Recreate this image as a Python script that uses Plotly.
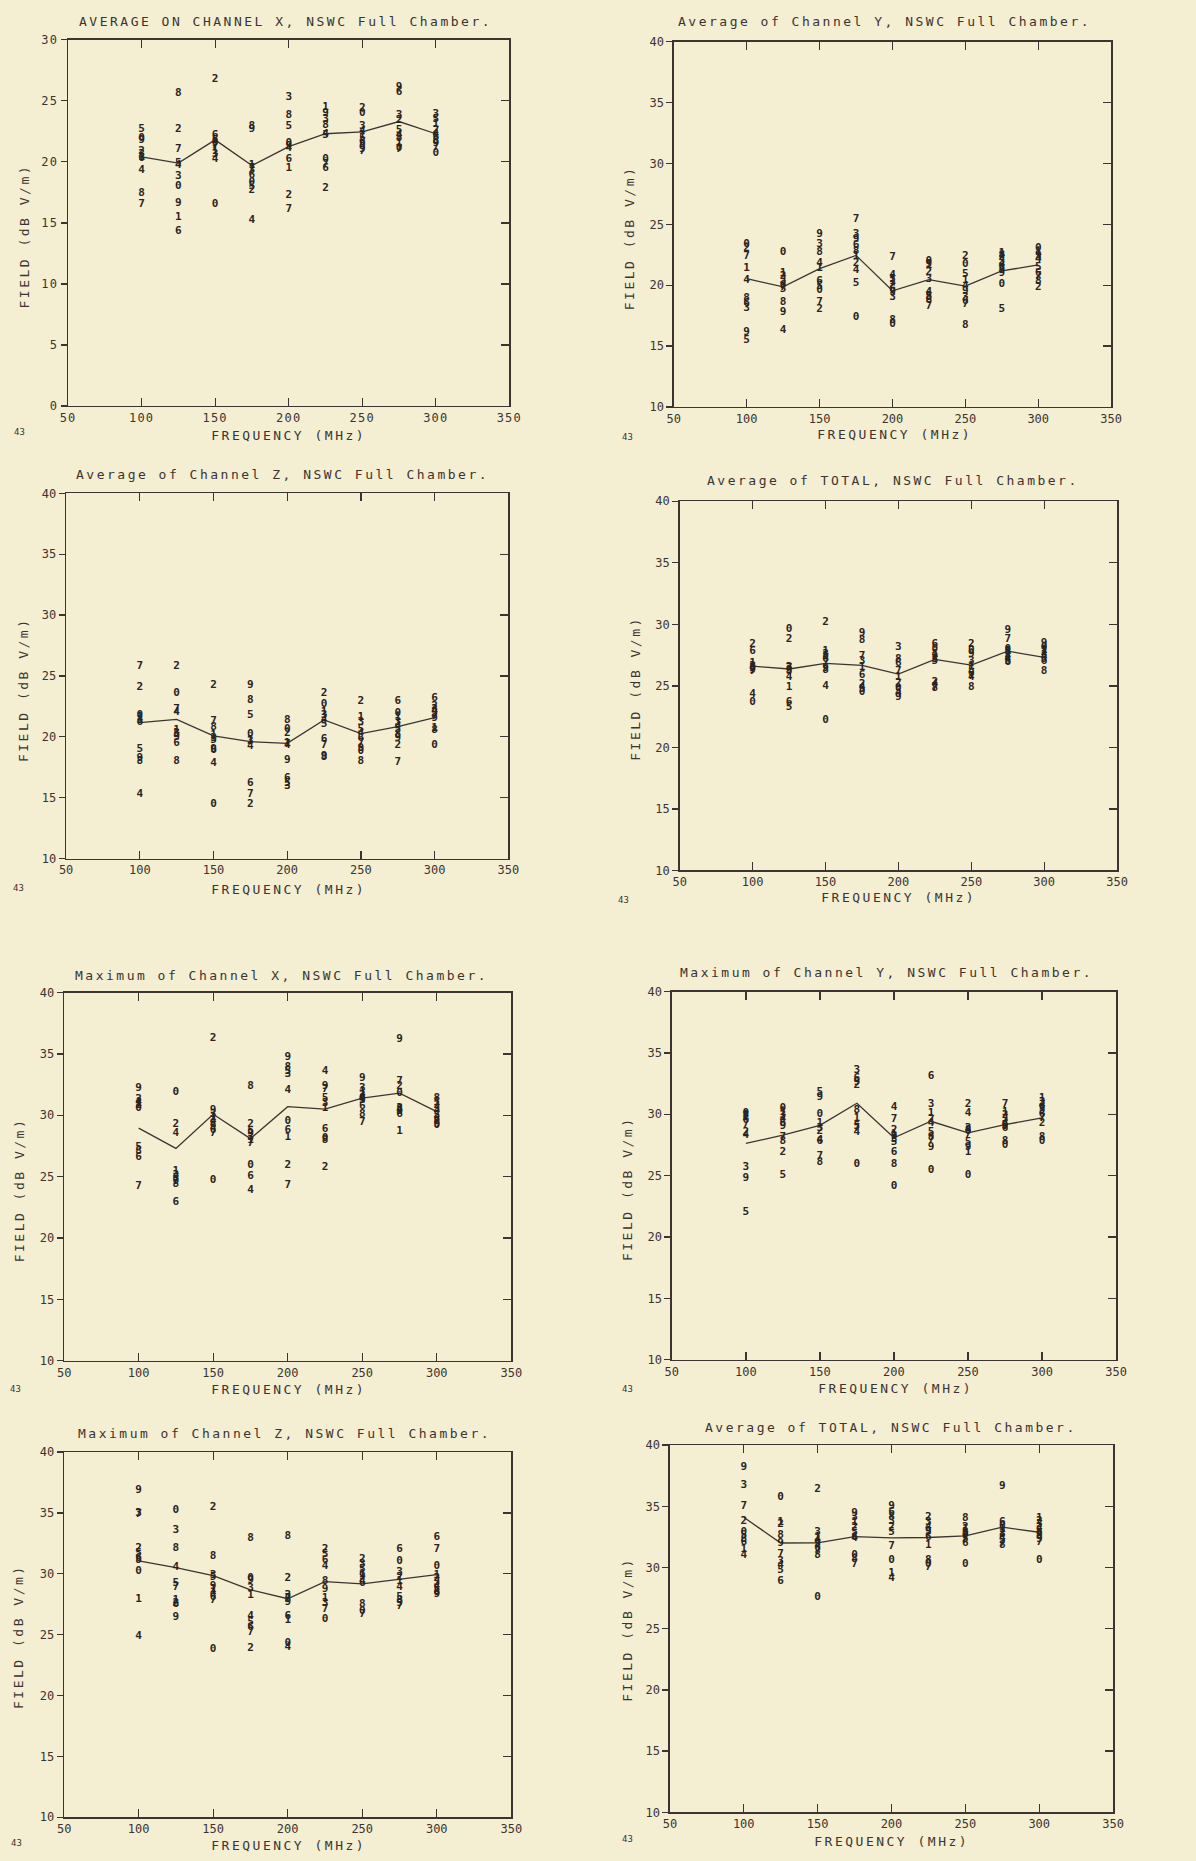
import plotly.graph_objects as go

W, H = 1196, 1861

FREQS = [100, 125, 150, 175, 200, 225, 250, 275, 300]
PROBES = ["0", "1", "2", "3", "4", "5", "6", "7", "8", "9"]
X_TICKS = [50, 100, 150, 200, 250, 300, 350]

# Each row: one frequency; columns: probe 0..9 (dB V/m)
AVG_X = [
    [21.9, 20.4, 20.9, 20.6, 19.3, 22.7, 20.3, 16.5, 17.4, 21.8],
    [18.0, 15.5, 22.7, 18.8, 19.7, 19.9, 14.3, 21.0, 25.6, 16.6],
    [16.5, 20.9, 26.8, 20.6, 20.2, 21.8, 22.2, 21.3, 21.6, 21.5],
    [18.3, 19.7, 17.7, 19.3, 15.2, 18.0, 18.9, 19.5, 22.9, 22.7],
    [21.5, 19.5, 17.3, 25.3, 21.1, 22.9, 20.2, 16.1, 23.8, 21.3],
    [20.2, 24.5, 17.8, 23.5, 22.3, 22.2, 19.5, 19.8, 23.0, 24.0],
    [24.0, 22.2, 24.4, 22.9, 22.5, 21.9, 21.6, 20.9, 21.4, 21.0],
    [21.1, 21.5, 23.4, 23.8, 22.2, 22.6, 25.7, 21.0, 21.9, 26.1],
    [20.7, 23.1, 22.6, 23.9, 22.3, 23.5, 22.0, 21.2, 21.7, 21.5],
]
AVG_X_MEAN = [20.4, 19.9, 21.8, 19.7, 21.25, 22.3, 22.45, 23.3, 22.3]

AVG_Y = [
    [23.4, 21.4, 23.0, 18.1, 20.4, 15.5, 18.5, 22.4, 18.9, 16.1],
    [22.7, 21.0, 20.7, 20.4, 16.3, 19.7, 20.0, 19.8, 18.6, 17.8],
    [19.6, 21.4, 18.0, 23.4, 21.8, 19.9, 20.3, 18.6, 22.7, 24.2],
    [17.4, 22.4, 21.8, 24.2, 21.2, 20.2, 23.3, 25.4, 22.8, 23.8],
    [16.8, 20.3, 20.0, 19.0, 20.8, 20.5, 19.7, 22.3, 17.1, 19.4],
    [22.0, 21.6, 21.1, 20.5, 19.4, 19.1, 18.8, 18.3, 19.0, 21.7],
    [21.7, 20.4, 22.4, 19.0, 19.9, 20.9, 18.7, 18.4, 16.7, 19.5],
    [20.1, 22.6, 22.3, 22.0, 21.7, 18.0, 21.4, 21.2, 22.5, 21.0],
    [23.0, 22.7, 19.8, 22.3, 22.1, 21.5, 21.0, 20.7, 20.3, 22.5],
]
AVG_Y_MEAN = [20.54, 19.86, 21.36, 22.45, 19.54, 20.46, 19.92, 21.17, 21.68]

AVG_Z = [
    [21.8, 21.6, 24.1, 21.4, 15.3, 19.0, 21.2, 25.8, 18.0, 18.2],
    [23.6, 20.5, 25.8, 20.3, 22.0, 20.2, 19.5, 22.3, 18.0, 20.0],
    [14.5, 20.1, 24.2, 19.9, 17.8, 19.7, 18.9, 21.3, 20.8, 19.0],
    [20.2, 19.7, 14.5, 19.6, 19.2, 21.8, 16.2, 15.3, 23.0, 24.2],
    [20.6, 19.5, 20.3, 15.9, 19.3, 16.2, 16.6, 19.4, 21.4, 18.1],
    [22.7, 22.0, 23.6, 21.8, 21.4, 21.0, 19.8, 19.3, 18.3, 18.4],
    [18.8, 21.6, 22.9, 21.2, 20.3, 20.6, 19.9, 19.5, 18.0, 19.1],
    [21.9, 21.6, 19.3, 21.2, 20.9, 20.6, 22.9, 17.9, 20.2, 19.9],
    [19.3, 20.7, 22.5, 22.3, 22.1, 21.9, 23.2, 21.7, 20.5, 21.5],
]
AVG_Z_MEAN = [21.16, 21.43, 20.08, 19.6, 19.46, 21.38, 20.27, 20.84, 21.57]

AVG_TOTAL_A = [
    [23.7, 26.8, 28.4, 26.6, 24.3, 26.4, 27.8, 26.2, 26.5, 26.3],
    [29.6, 24.9, 28.8, 26.5, 25.7, 23.3, 23.7, 26.4, 26.2, 26.3],
    [22.2, 27.8, 30.2, 27.6, 25.0, 27.4, 27.2, 26.8, 26.3, 26.4],
    [24.5, 26.5, 25.1, 27.0, 24.9, 24.7, 25.9, 27.4, 28.7, 29.3],
    [24.8, 25.7, 25.2, 28.1, 24.4, 24.6, 26.8, 26.2, 27.2, 24.1],
    [28.0, 27.6, 25.3, 27.2, 25.1, 27.0, 28.4, 24.9, 24.8, 27.4],
    [27.9, 26.6, 28.4, 27.0, 25.7, 26.3, 26.0, 25.8, 24.9, 27.6],
    [28.0, 27.8, 27.6, 27.4, 27.2, 27.0, 26.9, 28.8, 27.7, 29.5],
    [28.1, 27.9, 27.7, 27.5, 27.3, 27.2, 27.0, 27.8, 26.2, 28.5],
]
AVG_TOTAL_A_MEAN = [26.6, 26.37, 26.83, 26.66, 25.96, 27.15, 26.69, 27.82, 27.31]

MAX_X = [
    [30.6, 31.0, 30.8, 31.3, 31.1, 27.4, 26.6, 24.2, 27.1, 32.2],
    [31.9, 25.4, 29.3, 25.1, 28.5, 24.9, 22.9, 24.7, 24.4, 24.6],
    [24.7, 29.8, 36.3, 30.1, 29.5, 29.1, 28.8, 28.5, 29.3, 30.4],
    [25.9, 28.0, 29.3, 28.2, 23.9, 28.7, 25.0, 27.7, 32.4, 28.5],
    [29.5, 28.2, 25.9, 33.3, 32.0, 33.6, 28.8, 24.3, 33.9, 34.7],
    [28.1, 30.6, 25.8, 31.0, 33.6, 31.4, 28.9, 32.1, 28.0, 32.4],
    [31.4, 31.9, 31.6, 32.2, 31.3, 31.2, 30.7, 29.4, 30.1, 33.0],
    [31.8, 28.7, 32.4, 30.6, 30.4, 30.3, 30.1, 32.8, 30.5, 36.2],
    [29.2, 31.1, 30.8, 30.5, 30.3, 30.0, 29.7, 29.5, 31.4, 29.3],
]
MAX_X_MEAN = [28.95, 27.3, 30.08, 28.1, 30.7, 30.5, 31.4, 31.8, 30.3]

MAX_Y = [
    [30.1, 29.8, 28.5, 25.7, 28.3, 22.0, 29.5, 29.2, 29.9, 24.8],
    [30.5, 30.2, 26.9, 29.9, 29.6, 25.0, 29.3, 28.1, 27.8, 29.0],
    [30.0, 29.3, 28.6, 28.9, 27.9, 31.8, 27.8, 26.6, 26.1, 31.4],
    [25.9, 29.7, 32.4, 33.6, 28.5, 29.0, 32.9, 28.9, 30.3, 32.6],
    [24.1, 28.4, 28.7, 28.0, 30.6, 27.7, 26.9, 29.6, 25.9, 28.2],
    [25.4, 30.1, 29.6, 30.8, 29.3, 28.5, 33.1, 27.9, 28.1, 27.3],
    [25.0, 26.9, 30.8, 28.9, 30.1, 27.7, 28.6, 28.4, 28.7, 27.3],
    [27.5, 30.2, 29.9, 29.6, 29.3, 29.1, 28.9, 30.8, 27.8, 29.0],
    [27.8, 31.3, 29.3, 31.0, 30.7, 30.3, 30.0, 29.7, 28.1, 30.5],
]
MAX_Y_MEAN = [27.62, 28.3, 29.1, 30.9, 28.08, 29.43, 28.48, 29.16, 29.7]

MAX_Z = [
    [30.2, 27.9, 32.1, 35.0, 24.9, 31.7, 31.3, 34.9, 31.1, 36.9],
    [35.2, 27.8, 27.6, 33.6, 30.5, 29.2, 27.5, 28.9, 32.1, 26.4],
    [23.8, 28.7, 35.5, 29.9, 28.4, 29.7, 28.1, 27.8, 31.4, 29.0],
    [29.6, 28.2, 23.9, 28.8, 26.5, 26.0, 25.6, 25.2, 32.9, 29.5],
    [24.3, 26.2, 29.6, 28.2, 24.0, 27.9, 26.5, 28.0, 33.1, 27.7],
    [26.3, 28.0, 32.0, 27.6, 30.6, 31.6, 31.1, 27.1, 29.4, 28.7],
    [26.9, 30.0, 31.2, 30.8, 29.4, 30.4, 29.2, 26.7, 27.5, 29.8],
    [31.0, 29.4, 29.7, 30.1, 28.9, 28.1, 32.0, 27.3, 27.8, 27.6],
    [30.6, 29.9, 29.6, 29.3, 29.0, 28.7, 33.0, 32.0, 28.5, 28.3],
]
MAX_Z_MEAN = [31.07, 30.5, 29.85, 28.68, 27.95, 29.36, 29.17, 29.57, 29.93]

AVG_TOTAL_B = [
    [32.9, 31.5, 33.8, 36.7, 31.0, 32.6, 32.1, 35.0, 32.3, 38.2],
    [35.7, 33.7, 33.5, 30.5, 30.2, 29.8, 28.9, 31.1, 32.6, 32.0],
    [27.6, 32.5, 36.4, 32.9, 32.2, 31.9, 31.6, 31.3, 31.0, 32.0],
    [31.0, 33.7, 33.3, 34.1, 32.4, 32.9, 32.5, 30.3, 30.7, 34.4],
    [30.6, 29.5, 33.3, 33.8, 29.1, 32.9, 34.5, 31.7, 34.1, 35.0],
    [30.3, 31.8, 34.1, 33.7, 33.3, 32.9, 32.5, 30.0, 30.6, 33.0],
    [30.3, 33.1, 33.3, 32.9, 32.6, 32.3, 32.0, 32.4, 34.0, 32.7],
    [33.4, 33.1, 32.9, 32.7, 32.4, 32.2, 33.7, 32.0, 31.8, 36.6],
    [30.6, 34.0, 33.8, 33.5, 33.2, 33.0, 32.8, 32.1, 32.6, 32.3],
]
AVG_TOTAL_B_MEAN = [34.1, 32.0, 32.02, 32.53, 32.42, 32.45, 32.58, 33.29, 32.88]

TITLES = [
    "AVERAGE ON CHANNEL X, NSWC Full Chamber.",
    "Average of Channel Y, NSWC Full Chamber.",
    "Average of Channel Z, NSWC Full Chamber.",
    "Average of TOTAL, NSWC Full Chamber.",
    "Maximum of Channel X, NSWC Full Chamber.",
    "Maximum of Channel Y, NSWC Full Chamber.",
    "Maximum of Channel Z, NSWC Full Chamber.",
    "Average of TOTAL, NSWC Full Chamber.",
]
X_TITLE = "FREQUENCY (MHz)"
Y_TITLE = "FIELD (dB V/m)"
PAGE_TAG = "43"
Y_RANGES = [(0, 30), (10, 40), (10, 40), (10, 40), (10, 40), (10, 40), (10, 40), (10, 40)]

PANELS = [
    (AVG_X, AVG_X_MEAN), (AVG_Y, AVG_Y_MEAN), (AVG_Z, AVG_Z_MEAN),
    (AVG_TOTAL_A, AVG_TOTAL_A_MEAN), (MAX_X, MAX_X_MEAN), (MAX_Y, MAX_Y_MEAN),
    (MAX_Z, MAX_Z_MEAN), (AVG_TOTAL_B, AVG_TOTAL_B_MEAN),
]

# ---- layout geometry (pixels) ----
BOXES = [(62, 33, 510, 402), (677, 35, 1121, 403), (60, 490, 509, 858), (683, 498, 1127, 870),
         (58, 993, 512, 1364), (675, 992, 1126, 1363), (58, 1456, 512, 1824), (673, 1449, 1123, 1819)]
TITLE_POS = [(283, 15), (891, 15), (280, 471), (900, 477), (279, 976), (893, 973), (282, 1437), (897, 1431)]
XT_POS = [(286, 432), (901, 431), (286, 889), (905, 897), (286, 1393), (902, 1392), (286, 1852), (898, 1848)]
YT_POS = [(18, 231), (632, 232), (17, 688), (638, 686), (12, 1192), (630, 1191), (12, 1642), (630, 1635)]
TAG_POS = [(13, 428), (630, 433), (12, 888), (626, 900), (9, 1392), (630, 1392), (10, 1850), (630, 1846)]

BG = "#f4eed2"
INK = "#3b3431"
DOT = "#2a2421"
FONT = "DejaVu Sans Mono"

fig = go.Figure()
layout = {}
annotations = []

for i, ((pts, mean), (L, T, R, B), (y0, y1)) in enumerate(zip(PANELS, BOXES, Y_RANGES)):
    n = i + 1
    xa = "x" if n == 1 else f"x{n}"
    ya = "y" if n == 1 else f"y{n}"
    yo = f"y{n + 8}"
    xs, ys, ts = [], [], []
    for f, row in zip(FREQS, pts):
        for d, v in zip(PROBES, row):
            xs.append(f)
            ys.append(v)
            ts.append(d)
    fig.add_trace(go.Scatter(x=FREQS, y=mean, mode="lines", xaxis=xa, yaxis=ya,
                             line=dict(color=INK, width=1.3), showlegend=False, hoverinfo="skip"))
    fig.add_trace(go.Scatter(x=xs, y=ys, text=ts, mode="text", xaxis=xa, yaxis=ya,
                             textposition="middle center",
                             textfont=dict(family=FONT, size=11, color=DOT, weight="bold"),
                             showlegend=False, hoverinfo="skip"))
    fig.add_trace(go.Scatter(x=[], y=[], xaxis=xa, yaxis=yo, mode="markers",
                             showlegend=False, hoverinfo="skip"))
    ytv = list(range(y0, y1 + 1, 5))
    layout["xaxis" if n == 1 else f"xaxis{n}"] = dict(
        domain=[L / W, R / W], anchor=ya, range=[50, 350], tickvals=X_TICKS,
        ticks="inside", ticklen=8, tickwidth=1.3, tickcolor=INK, mirror="ticks",
        showline=True, linecolor=INK, linewidth=1.5, showgrid=False, zeroline=False,
        tickfont=dict(family=FONT, size=12, color=INK), fixedrange=True)
    layout["yaxis" if n == 1 else f"yaxis{n}"] = dict(
        domain=[1 - B / H, 1 - T / H], anchor=xa, range=[y0, y1], tickvals=ytv,
        ticks="outside", ticklen=6, tickwidth=1.3, tickcolor=INK, mirror=True,
        showline=True, linecolor=INK, linewidth=1.5, showgrid=False, zeroline=False,
        tickfont=dict(family=FONT, size=12, color=INK), fixedrange=True)
    layout[f"yaxis{n + 8}"] = dict(
        overlaying=ya, anchor=xa, side="right", range=[y0, y1], tickvals=ytv,
        ticks="inside", ticklen=8, tickwidth=1.3, tickcolor=INK, showticklabels=False,
        showline=False, showgrid=False, zeroline=False, fixedrange=True)

    tx, ty = TITLE_POS[i]
    annotations.append(dict(text=TITLES[i], x=tx / W, y=1 - ty / H, xref="paper", yref="paper",
                            xanchor="center", yanchor="middle", showarrow=False,
                            font=dict(family=FONT, size=13, color=INK)))
    ax, ay = XT_POS[i]
    annotations.append(dict(text=X_TITLE, x=ax / W, y=1 - ay / H, xref="paper", yref="paper",
                            xanchor="center", yanchor="middle", showarrow=False,
                            font=dict(family=FONT, size=13, color=INK)))
    bx, by = YT_POS[i]
    annotations.append(dict(text=Y_TITLE, x=bx / W, y=1 - by / H, xref="paper", yref="paper",
                            xanchor="center", yanchor="middle", showarrow=False, textangle=-90,
                            font=dict(family=FONT, size=13, color=INK)))
    gx, gy = TAG_POS[i]
    annotations.append(dict(text=PAGE_TAG, x=gx / W, y=1 - gy / H, xref="paper", yref="paper",
                            xanchor="center", yanchor="middle", showarrow=False,
                            font=dict(family=FONT, size=9, color=INK)))

fig.update_layout(
    width=W, height=H, margin=dict(l=0, r=0, t=0, b=0),
    paper_bgcolor=BG, plot_bgcolor=BG, showlegend=False,
    annotations=annotations, **layout)

POST = """
var gd = document.getElementById('{plot_id}');
function spaceText(){
  gd.querySelectorAll('.annotation-text').forEach(function(e){
    var n = e.textContent.length;
    e.style.letterSpacing = n > 3 ? '2.5px' : '0px';
  });
  gd.querySelectorAll('.xtick text, .ytick text').forEach(function(e){
    e.style.letterSpacing = '1.2px';
  });
}
spaceText();
if (gd.on) { gd.on('plotly_afterplot', spaceText); }
"""

fig.write_html("out.html", post_script=POST, config={"staticPlot": True})
